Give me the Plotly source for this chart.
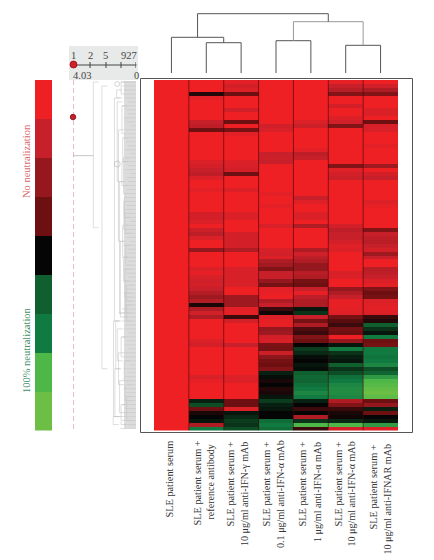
import plotly.graph_objects as go

W, H = 434, 560
def px(x): return x / W
def py(y): return 1 - y / H

# ---------- data ----------
treatments = [
    ["SLE patient serum"],
    ["SLE patient serum +", "reference antibody"],
    ["SLE patient serum +", "10 μg/ml anti-IFN-γ mAb"],
    ["SLE patient serum +", "0.1 μg/ml anti-IFN-α mAb"],
    ["SLE patient serum +", "1 μg/ml anti-IFN-α mAb"],
    ["SLE patient serum +", "10 μg/ml anti-IFN-α mAb"],
    ["SLE patient serum +", "10 μg/ml anti-IFNAR mAb"],
]
serum = [0] * 88
reference_ab = [0,0,0,3.7,.3,0,0,0,0,0,
    1,1.2,3,0,0,0,0,0,0,0,
    .5,.7,1,1.2,.5,0,0,.3,0,0,
    0,0,0,.7,.7,.5,0,.9,1.2,.5,
    0,0,2,0,0,0,0,.5,.2,.6,
    .8,.7,1,1.4,1.8,1.4,3.8,1.5,.8,1.5,
    0,0,0,0,0,.5,.7,0,0,0,
    0,0,0,0,.6,.2,0,0,0,0,
    4.3,4.8,3,3.8,4,4.2,1.5,6]
gamma_10 = [.3,.7,.5,3,0,0,0,.8,0,0,
    3,0,2.8,.3,0,0,0,0,0,0,
    .5,.6,.7,3,0,0,0,.5,0,0,
    0,0,0,.5,.5,0,0,0,.7,.7,
    .7,.7,1.5,0,0,0,0,.6,.6,.6,
    .6,.6,0,0,1.8,1.8,1.8,.3,.3,3.5,
    .7,0,0,0,0,0,1,0,0,0,
    0,0,0,0,.5,.5,0,0,0,0,
    3,3,.5,4.2,4.4,4.6,4.5,4.8]
alpha_01 = [0,0,0,0,0,0,0,0,0,0,
    0,.8,.6,0,0,0,0,0,1,.9,
    1,0,0,0,0,0,0,0,.3,0,
    0,.3,0,0,0,0,.6,0,0,0,
    0,0,.6,.8,.5,1.5,1.7,2.5,1,1,
    2,2.8,.3,.2,0,1.5,1,3.5,3.9,.5,
    .2,.2,2,1.8,.7,.6,2.7,2.8,.9,2.2,
    2.8,3,2.5,4.3,4.1,3.8,4,3.7,3.8,4.2,
    4.6,4.3,4.2,4,4,5.5,6,5.5]
alpha_1 = [0,0,0,0,0,0,0,0,0,0,
    .5,.9,0,0,0,0,0,.3,1.2,1,
    0,0,0,0,0,0,0,0,0,1,
    .4,0,0,.5,.5,0,1.5,0,0,0,
    0,0,1.5,.8,1.2,1.5,2,2,1.3,1.5,
    2.8,3,1,.2,1.2,1.5,1.5,4.2,4.5,1,
    2.8,1.5,3.3,3.5,2.5,3,4,4.6,4.4,4.1,
    4,4.2,4.1,5,5.3,5.2,5.6,6,6.2,6,
    4.3,4,3.5,4,1.5,4.5,7,3.5]
alpha_10 = [.2,1,1.3,2.5,0,0,.7,0,0,.5,
    .8,2.5,0,0,0,0,0,0,0,0,
    0,2.5,.4,.7,.9,0,0,0,0,0,
    0,0,0,0,0,0,.7,1.2,1,1,
    .7,.4,.5,0,0,0,0,0,.6,.5,
    0,0,2,1.5,1,.2,.2,.3,.4,2.8,
    3.2,3.5,2.8,3,0,2,4.2,6,4.5,4.3,
    4.2,5,4.5,4.8,5.6,6,6.2,6.3,6.3,6.2,
    1.5,2.5,3.5,3.8,3.9,4.4,7,.7]
ifnar_10 = [0,.8,1.5,2.5,0,0,0,.5,.5,0,
    3,.6,.6,0,0,0,.3,0,0,0,
    0,1.8,0,.7,1,0,0,0,0,0,
    .5,.2,0,0,0,0,0,2.5,1,1.2,
    1.3,1,.7,1.8,1,0,0,1.3,1.2,1,
    .5,.3,2.5,3,2.8,.5,.4,.3,.5,3.5,
    3.7,5,4.5,4.2,6,3,2.8,6,6,5.8,
    6,6.2,4.8,5.2,6.5,7,7.3,7.7,8,7.5,
    3,2,4.3,3,4,4.2,6.5,.5]
columns = [serum, reference_ab, gamma_10, alpha_01, alpha_1, alpha_10, ifnar_10]

palette = ["#EE2024", "#C8202A", "#95181E", "#6E0F12", "#050505",
           "#10602F", "#107A40", "#4DB748", "#6DBE45"]
legend_levels = [0, 1, 2, 3, 4, 5, 6, 7, 8]

# column tree: (left position, right position, left height, right height, height)
col_tree = [
    (1, 2, 0, 0, 30.3), (3, 4, 0, 0, 32.3), (5, 6, 0, 0, 27.7),
    (0, 1.5, 0, 30.3, 35.7), (3.5, 5.5, 32.3, 27.7, 51.3),
    (0.75, 4.5, 35.7, 51.3, 59.3),
]

# row tree: distance of each bracket and the rows it spans
node_d = [2.73, 2.18, 1.44, 1.38, 1.30, 1.24, 1.20, 1.12, 1.05, 1.0, 1.35, 1.2, 1.12, 1.05, 0.95,
          0.95, 0.9, 0.85, 0.8, 0.75, 0.7, 0.85, 0.8, 0.7, 0.65, 0.6, 0.95, 0.75, 0.7, 0.6, 0.9, 0.78, 0.65, 0.6, 1.46]
node_top = [0, 1, 60, 4, 60, 2, 5, 12, 25, 40, 72, 62, 68, 75, 81,
            0, 6, 14, 19, 29, 33, 36, 44, 47, 53, 56, 64, 70, 76, 79, 20, 30, 41, 51, 84]
node_bot = [36.6, 72, 84, 60, 72, 4, 25, 40, 58, 59, 84, 70, 76, 83, 86,
            3, 13, 20, 28, 34, 38, 44, 50, 54, 58, 60, 69, 75, 80, 85, 26, 37, 46, 55, 86]
leaf_depth = [1.0,.9,.8,.6,.7,.5,.9,.6,.5,.8,.6,.4,.7,.5,.8,.6,.5,.7,.4,.6,
              .8,.5,.7,.4,.6,.5,.8,.6,.7,.4,.5,.6,.8,.5,.7,.4,.6,.5,.7,.6,
              .4,.8,.5,.6,.7,.5,.4,.8,.6,.5,.7,.4,.6,.8,.5,.6,.7,.9,1.1,.8,
              .9,.7,.8,.5,.9,.6,.7,.5,.8,.6,.7,.4,.8,.5,.7,.6,.5,.8,.6,.7,
              .5,.9,.7,.8,1.3,.9,.7,1.0]
root_row = 18.5
root_x = 2.73
cut_row = 8.8
cut_distance = 4.03
scale_labels = ["1", "2", "5", "927"]
scale_label_pos = [3.97, 2.91, 1.92, 0.45]
scale_ticks = [2.94, 1.92, 0.96, 0]

# ---------- traces ----------
fig = go.Figure()
colorscale = [[i / 8, c] for i, c in enumerate(palette)]
rows = list(range(len(serum)))
fig.add_trace(go.Heatmap(
    z=[[c[r] for c in columns] for r in rows], x=list(range(7)), y=rows,
    zmin=0, zmax=8, colorscale=colorscale, showscale=False, hoverinfo="skip"))
fig.add_trace(go.Heatmap(
    z=[[v] for v in legend_levels], x=[0], y=legend_levels,
    zmin=0, zmax=8, colorscale=colorscale, showscale=False, hoverinfo="skip",
    xaxis="x4", yaxis="y4"))

for l, r, hl, hr, h in col_tree:
    grey = "#999999" if h == 51.3 else "#555555"
    fig.add_trace(go.Scatter(x=[l, l, r, r], y=[hl, h, h, hr], mode="lines",
                             line=dict(color=grey, width=1), xaxis="x2", yaxis="y2",
                             hoverinfo="skip", showlegend=False))

# row dendrogram
xs, ys = [], []
for r, d in zip(rows, leaf_depth):
    xs += [d, 0, None]; ys += [r, r, None]
for d, t, b in zip(node_d, node_top, node_bot):
    xs += [d, d, None]; ys += [t, b, None]
    xs += [d, max(d - 0.35, 0), None]; ys += [t, t, None]
    xs += [d, max(d - 0.35, 0), None]; ys += [b, b, None]
fig.add_trace(go.Scatter(x=xs, y=ys, mode="lines", line=dict(color="#c8c8c8", width=0.6),
                         xaxis="x3", yaxis="y3", hoverinfo="skip", showlegend=False))
fig.add_trace(go.Scatter(x=[cut_distance, root_x], y=[root_row, root_row], mode="lines",
                         line=dict(color="#c4c4c4", width=1), xaxis="x3", yaxis="y3",
                         hoverinfo="skip", showlegend=False))
fig.add_trace(go.Scatter(x=[1.2, 1.2], y=[20.6, 0.5], mode="markers",
                         marker=dict(size=[6, 5], color="rgba(0,0,0,0)", line=dict(color="#aaaaaa", width=0.7)),
                         xaxis="x3", yaxis="y3", hoverinfo="skip", showlegend=False))
fig.add_trace(go.Scatter(x=[cut_distance, cut_distance], y=[-0.5, 87.5], mode="lines",
                         line=dict(color="#e8878e", width=1.2, dash="5px,3px"), xaxis="x3", yaxis="y3",
                         hoverinfo="skip", showlegend=False, cliponaxis=False))
fig.add_trace(go.Scatter(x=[cut_distance], y=[cut_row], mode="markers",
                         marker=dict(size=5.5, color="#C8202A", line=dict(color="#7a1015", width=0.8)),
                         xaxis="x3", yaxis="y3", hoverinfo="skip", showlegend=False, cliponaxis=False))

# ---------- layout ----------
def hidden(**kw):
    return dict(visible=False, fixedrange=True, **kw)

HX0, HX1, HY0, HY1 = 154, 398, 80, 430.5
shapes = [
    dict(type="rect", xref="paper", yref="paper", x0=px(69), x1=px(138), y0=py(80), y1=py(46),
         fillcolor="#e8e9e9", line=dict(width=0), layer="below"),
    dict(type="rect", xref="paper", yref="paper", x0=px(124), x1=px(136), y0=py(HY1 - 2), y1=py(81),
         fillcolor="#dcdcdc", line=dict(width=0), layer="below"),
    dict(type="rect", xref="paper", yref="paper", x0=px(140.5), x1=px(412.5), y0=py(432.5), y1=py(78.5),
         line=dict(color="#555555", width=1), layer="above"),
    dict(type="line", xref="paper", yref="paper", x0=px(73), x1=px(136.5), y0=py(65), y1=py(65),
         line=dict(color="#444444", width=1)),
    dict(type="circle", xref="paper", yref="paper", x0=px(70), x1=px(77), y0=py(68), y1=py(61),
         fillcolor="#D2202A", line=dict(color="#8a1015", width=0.8), layer="above"),
]
for sep in [0.5, 1.5, 2.5, 3.5, 4.5, 5.5]:
    shapes.append(dict(type="line", xref="x", yref="y", x0=sep, x1=sep, y0=-0.5, y1=87.5,
                       line=dict(color="rgba(70,5,10,0.6)", width=1), layer="above"))
for p in scale_ticks:
    shapes.append(dict(type="line", xref="x3", yref="paper", x0=p, x1=p, y0=py(68), y1=py(62),
                       line=dict(color="#444444", width=1)))

serif = "Liberation Serif"
ann = []
def note(text, x, y, size, color, angle=0, xanchor="center", yanchor="middle", xref="paper"):
    ann.append(dict(text=text, xref=xref, yref="paper", x=x, y=y, showarrow=False, textangle=angle,
                    xanchor=xanchor, yanchor=yanchor, font=dict(family=serif, size=size, color=color)))

for lab, p in zip(scale_labels, scale_label_pos):
    note(lab, p, py(55.5), 10.5, "#444444", xref="x3")
note("4.03", px(82), py(75.5), 10.5, "#444444")
note("0", px(136), py(75.5), 10.5, "#444444")
note("No neutralization", px(26), py(161), 10.5, "#d9666e", angle=-90)
note("100% neutralization", px(26), py(350), 10.5, "#3f8f6e", angle=-90)

label_x = [169, 197, 230, 266, 302, 338, 373]
line1_top = [439, 439, 440, 440, 440, 440, 443]
line2_x = [None, 210, 244, 280, 317, 351, 387]
line2_top = [None, 443, 440, 438, 440, 440, 442]
for i, lines in enumerate(treatments):
    note(lines[0], px(label_x[i]), py(line1_top[i]), 10.3, "#333333", angle=-90, yanchor="top")
    if len(lines) > 1:
        note(lines[1], px(line2_x[i]), py(line2_top[i]), 10.1, "#333333", angle=-90, yanchor="top")

fig.update_layout(
    width=W, height=H, autosize=False, margin=dict(l=0, r=0, t=0, b=0),
    paper_bgcolor="white", plot_bgcolor="rgba(0,0,0,0)", showlegend=False,
    xaxis=hidden(domain=[px(HX0), px(HX1)], range=[-0.5, 6.5]),
    yaxis=hidden(domain=[py(HY1), py(HY0)], range=[87.5, -0.5]),
    xaxis2=hidden(domain=[px(HX0), px(HX1)], range=[-0.5, 6.5], anchor="y2"),
    yaxis2=hidden(domain=[py(73), py(13)], range=[0, 60], anchor="x2"),
    xaxis3=hidden(domain=[px(73), px(136)], range=[4.03, 0], anchor="y3"),
    yaxis3=hidden(domain=[py(HY1), py(HY0)], range=[87.5, -0.5], anchor="x3"),
    xaxis4=hidden(domain=[px(35), px(52)], range=[-0.5, 0.5], anchor="y4"),
    yaxis4=hidden(domain=[py(HY1), py(HY0)], range=[8.5, -0.5], anchor="x4"),
    shapes=shapes, annotations=ann,
)
fig.write_html("out.html", config=dict(displayModeBar=False),
               post_script="document.body.style.margin='0';")
